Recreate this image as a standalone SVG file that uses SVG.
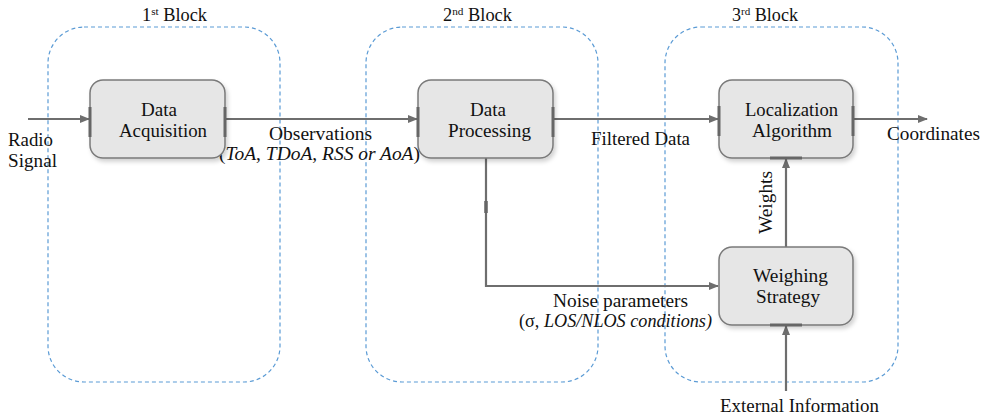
<svg xmlns="http://www.w3.org/2000/svg" width="989" height="417" viewBox="0 0 989 417" font-family="'Liberation Serif', 'DejaVu Serif', serif">
<style>
text{font-family:"Liberation Serif","DejaVu Serif",serif;font-size:18px;fill:#111}
.it{font-style:italic}
.blk{fill:none;stroke:#5b9bd5;stroke-width:1.2;stroke-dasharray:4 3}
.node{fill:#e6e6e6;stroke:#7a7a7a;stroke-width:1.5}
.ln{fill:none;stroke:#6e6e6e;stroke-width:2.2}
.stub{stroke:#666;stroke-width:3}
</style>
<defs>
<marker id="ah" markerWidth="10" markerHeight="8" refX="9" refY="4" orient="auto" markerUnits="userSpaceOnUse">
<path d="M0,0 L10,4 L0,8 Z" fill="#6e6e6e"/>
</marker>
<filter id="sh" x="-10%" y="-10%" width="130%" height="130%">
<feDropShadow dx="2" dy="3" stdDeviation="2" flood-color="#000" flood-opacity="0.18"/>
</filter>
</defs>
<rect width="989" height="417" fill="#fff"/>

<g id="block1">
<rect class="blk" x="48" y="27" width="232" height="355" rx="36"/>
<text x="142" y="21" textLength="65" lengthAdjust="spacingAndGlyphs">1<tspan font-size="11" dy="-6">st</tspan><tspan dy="6"> Block</tspan></text>
</g>
<g id="block2">
<rect class="blk" x="366" y="27" width="232" height="355" rx="36"/>
<text x="443" y="21" textLength="69" lengthAdjust="spacingAndGlyphs">2<tspan font-size="11" dy="-6">nd</tspan><tspan dy="6"> Block</tspan></text>
</g>
<g id="block3">
<rect class="blk" x="665" y="27" width="233" height="355" rx="36"/>
<text x="732" y="21" textLength="66" lengthAdjust="spacingAndGlyphs">3<tspan font-size="11" dy="-6">rd</tspan><tspan dy="6"> Block</tspan></text>
</g>

<g id="connectors">
<line class="ln" x1="28" y1="119" x2="89" y2="119" marker-end="url(#ah)"/>
<line class="ln" x1="225" y1="119" x2="417" y2="119" marker-end="url(#ah)"/>
<line class="ln" x1="553" y1="119" x2="718" y2="119" marker-end="url(#ah)"/>
<line class="ln" x1="853" y1="119" x2="927" y2="119" marker-end="url(#ah)"/>
<polyline class="ln" points="486,158 486,286 718,286" marker-end="url(#ah)"/>
<line x1="486" y1="201" x2="486" y2="213" stroke="#666" stroke-width="3.5"/>
<line class="ln" x1="786" y1="247" x2="786" y2="159" marker-end="url(#ah)"/>
<line class="ln" x1="786" y1="391" x2="786" y2="326" marker-end="url(#ah)"/>
<text x="8" y="146" textLength="45" lengthAdjust="spacingAndGlyphs">Radio</text>
<text x="8" y="167" textLength="49" lengthAdjust="spacingAndGlyphs">Signal</text>
<text x="269" y="140" textLength="103" lengthAdjust="spacingAndGlyphs">Observations</text>
<text x="219" y="160" textLength="201" lengthAdjust="spacingAndGlyphs">(<tspan class="it">ToA</tspan>, <tspan class="it">TDoA</tspan>, <tspan class="it">RSS or   AoA</tspan>)</text>
<text x="591" y="145" textLength="99" lengthAdjust="spacingAndGlyphs">Filtered Data</text>
<text x="887" y="140" textLength="93" lengthAdjust="spacingAndGlyphs">Coordinates</text>
<text transform="translate(772,234) rotate(-90)" textLength="63" lengthAdjust="spacingAndGlyphs">Weights</text>
<text x="553" y="307" textLength="135" lengthAdjust="spacingAndGlyphs">Noise parameters</text>
<text x="519" y="327" textLength="193" lengthAdjust="spacingAndGlyphs">(σ, <tspan class="it">LOS/NLOS conditions)</tspan></text>
<text x="720" y="412" textLength="159" lengthAdjust="spacingAndGlyphs">External Information</text>
</g>

<g id="data-acquisition">
<rect class="node" x="90" y="80" width="135" height="78" rx="13" filter="url(#sh)"/>
<line class="stub" x1="90" y1="107" x2="90" y2="137"/>
<line class="stub" x1="225" y1="107" x2="225" y2="137"/>
<text x="141" y="116" textLength="36" lengthAdjust="spacingAndGlyphs">Data</text>
<text x="119" y="137" textLength="88" lengthAdjust="spacingAndGlyphs">Acquisition</text>
</g>
<g id="data-processing">
<rect class="node" x="418" y="80" width="135" height="78" rx="13" filter="url(#sh)"/>
<line class="stub" x1="418" y1="107" x2="418" y2="137"/>
<line class="stub" x1="553" y1="107" x2="553" y2="137"/>
<text x="470" y="116" textLength="36" lengthAdjust="spacingAndGlyphs">Data</text>
<text x="448" y="137" textLength="83" lengthAdjust="spacingAndGlyphs">Processing</text>
</g>
<g id="localization-algorithm">
<rect class="node" x="719" y="80" width="134" height="78" rx="13" filter="url(#sh)"/>
<line class="stub" x1="719" y1="106" x2="719" y2="136"/>
<line class="stub" x1="853" y1="106" x2="853" y2="136"/>
<line class="stub" x1="770" y1="158" x2="802" y2="158"/>
<text x="745" y="116" textLength="93" lengthAdjust="spacingAndGlyphs">Localization</text>
<text x="752" y="137" textLength="80" lengthAdjust="spacingAndGlyphs">Algorithm</text>
</g>
<g id="weighing-strategy">
<rect class="node" x="719" y="247" width="134" height="78" rx="13" filter="url(#sh)"/>
<line class="stub" x1="770" y1="325" x2="802" y2="325"/>
<text x="753" y="282" textLength="75" lengthAdjust="spacingAndGlyphs">Weighing</text>
<text x="756" y="303" textLength="64" lengthAdjust="spacingAndGlyphs">Strategy</text>
</g>
</svg>
